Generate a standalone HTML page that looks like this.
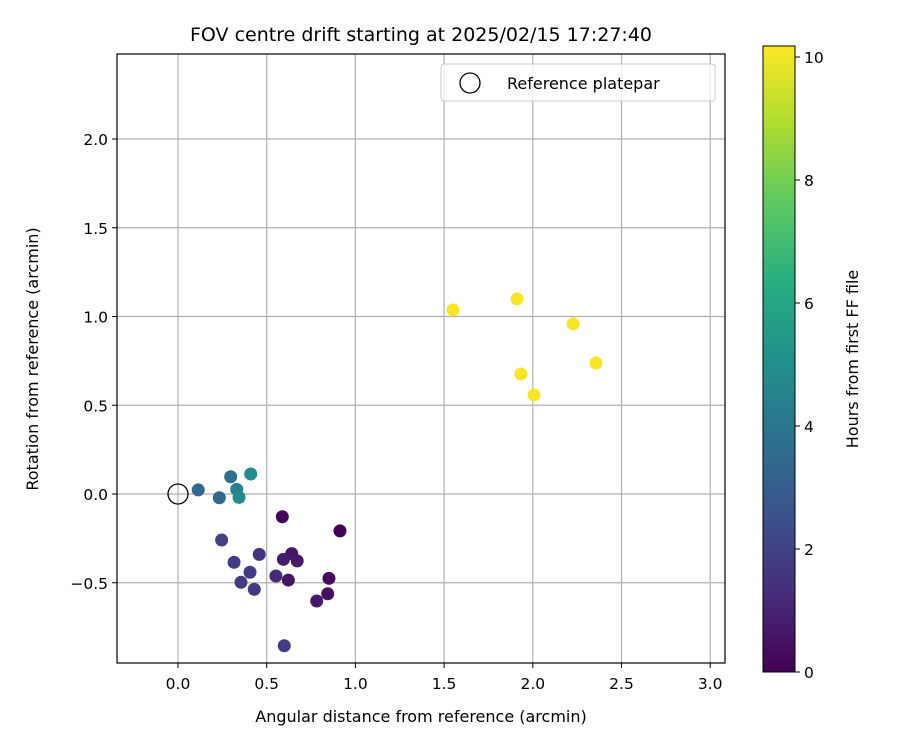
<!DOCTYPE html>
<html><head><meta charset="utf-8"><style>
body{margin:0;background:#fff;}
svg text{font-family:"DejaVu Sans","Liberation Sans",sans-serif;fill:#000;}
</style></head><body>
<svg id="c" width="900" height="750" xmlns="http://www.w3.org/2000/svg">
<defs><linearGradient id="vir" x1="0" y1="1" x2="0" y2="0">
<stop offset="0" stop-color="#440154"/><stop offset="0.125" stop-color="#472d7b"/><stop offset="0.25" stop-color="#3b528b"/><stop offset="0.375" stop-color="#2c728e"/><stop offset="0.5" stop-color="#21918c"/><stop offset="0.625" stop-color="#28ae80"/><stop offset="0.75" stop-color="#5ec962"/><stop offset="0.875" stop-color="#addc30"/><stop offset="1" stop-color="#fde725"/></linearGradient></defs>
<text x="421" y="41" font-size="19" text-anchor="middle">FOV centre drift starting at 2025/02/15 17:27:40</text>
<g id="grid"></g><g id="pts"></g>
<rect x="117" y="54" width="608" height="609" fill="none" stroke="#000" stroke-width="1.2"/>
<g id="ticks"></g>
<text x="421" y="722" font-size="16" text-anchor="middle">Angular distance from reference (arcmin)</text>
<text transform="translate(38,359) rotate(-90)" font-size="16" text-anchor="middle">Rotation from reference (arcmin)</text>
<g>
<rect x="441" y="64" width="274" height="37" rx="3" fill="#fff" fill-opacity="0.8" stroke="#ccc"/>
<circle cx="470" cy="83" r="10" fill="none" stroke="#000" stroke-width="1.3"/>
<text x="507" y="89" font-size="16">Reference platepar</text></g>
<rect x="763" y="46" width="32" height="626" fill="url(#vir)" stroke="#000" stroke-width="1"/>
<g id="cb"></g>
<text transform="translate(858,359) rotate(-90)" font-size="16" text-anchor="middle">Hours from first FF file</text>
</svg>
<script>
const xs=[0.114,0.297,0.410,0.233,0.331,0.344,0.588,0.913,0.246,0.458,0.316,0.641,0.594,0.672,0.406,0.552,0.622,0.851,0.355,0.430,0.844,0.782,0.599,1.550,1.911,2.227,1.933,2.007,2.356];
const ys=[0.023,0.097,0.113,-0.021,0.026,-0.019,-0.128,-0.208,-0.259,-0.340,-0.385,-0.336,-0.368,-0.377,-0.441,-0.462,-0.485,-0.475,-0.497,-0.537,-0.562,-0.603,-0.855,1.037,1.099,0.958,0.676,0.558,0.738];
const hrs=[3.4,3.7,4.9,3.4,4.5,4.8,0.2,0.1,2.0,1.5,1.8,0.6,0.8,0.7,1.8,1.2,0.6,0.3,1.8,1.7,0.5,0.7,1.8,10.1,10.1,10.1,10.1,10.1,10.1];
const xTicks=[0,0.5,1,1.5,2,2.5,3];
const yTicks=[-0.5,0,0.5,1,1.5,2];
const cTicks=[0,2,4,6,8,10];
const X=v=>178+v*177.4, Y=v=>494-v*177.5, C=v=>672-v*61.5;
const vir=[[68,1,84],[71,45,123],[59,82,139],[44,114,142],[33,145,140],[40,174,128],[94,201,98],[173,220,48],[253,231,37]];
function col(h){let t=Math.max(0,Math.min(1,h/10.18))*8,i=Math.min(7,Math.floor(t)),f=t-i;const a=vir[i],b=vir[i+1];return `rgb(${a.map((v,k)=>Math.round(v+(b[k]-v)*f)).join(',')})`;}
const NS='http://www.w3.org/2000/svg';
function mk(tag,at,p){const e=document.createElementNS(NS,tag);for(const k in at)e.setAttribute(k,at[k]);document.getElementById(p).appendChild(e);return e;}
xTicks.forEach(t=>{const l=mk('line',{x1:X(t),x2:X(t),y1:54,y2:663,stroke:'#b0b0b0','stroke-width':1.2},'grid');

mk('line',{x1:X(t),x2:X(t),y1:663,y2:668,stroke:'#000'},'ticks');
const tx=mk('text',{x:X(t),y:689,'font-size':15.5,'text-anchor':'middle'},'ticks');tx.textContent=t.toFixed(1);
});
yTicks.forEach(t=>{const l=mk('line',{x1:117,x2:725,y1:Y(t),y2:Y(t),stroke:'#b0b0b0','stroke-width':1.2},'grid');

mk('line',{x1:112,x2:117,y1:Y(t),y2:Y(t),stroke:'#000'},'ticks');
const tx=mk('text',{x:108,y:Y(t)+6,'font-size':15.5,'text-anchor':'end'},'ticks');tx.textContent=(t<0?'−':'')+Math.abs(t).toFixed(1);
});
cTicks.forEach(t=>{mk('line',{x1:795,x2:800,y1:C(t),y2:C(t),stroke:'#000'},'cb');
const tx=mk('text',{x:804,y:C(t)+6,'font-size':15.5},'cb');tx.textContent=t;
});
xs.forEach((v,i)=>{const c=mk('circle',{cx:X(v),cy:Y(ys[i]),r:6.5,fill:col(hrs[i])},'pts');
});
const r=mk('circle',{cx:X(0),cy:Y(0),r:10,fill:'none',stroke:'#000','stroke-width':1.3},'pts');

</script>
</body></html>
